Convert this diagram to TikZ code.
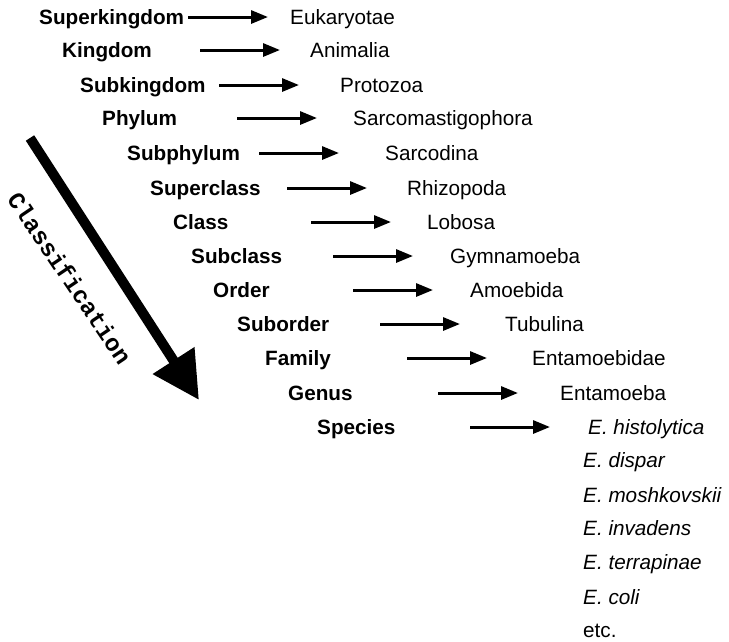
\documentclass[tikz,border=0pt]{standalone}
\usepackage{fontspec}
\setmainfont{Liberation Sans}
\newfontfamily\clsfont{Liberation Mono}
\usetikzlibrary{arrows.meta}
\begin{document}
\begin{tikzpicture}[x=1pt,y=-1pt,
  rank/.style={anchor=base west, inner sep=0pt, font=\fontsize{20.7}{21}\selectfont\bfseries},
  taxon/.style={anchor=base west, inner sep=0pt, font=\fontsize{20.7}{21}\selectfont},
  species/.style={anchor=base west, inner sep=0pt, font=\fontsize{20.7}{21}\selectfont\itshape},
  rowarrow/.style={line width=3pt, -{Triangle[length=17pt,width=13pt]}},
  bigarrow/.style={line width=10pt, -{Triangle[length=47pt,width=47pt]}},
]
\useasboundingbox (0,0) rectangle (729,641);
\foreach \i/\lab/\lx/\ax/\val/\rx/\yy in {
  0/Superkingdom/39/188/Eukaryotae/290/17,
  1/Kingdom/62/200/Animalia/310/50,
  2/Subkingdom/80/219/Protozoa/340/85,
  3/Phylum/102/237/Sarcomastigophora/353/118,
  4/Subphylum/127/259/Sarcodina/385/153,
  5/Superclass/150/287/Rhizopoda/407/188,
  6/Class/173/311/Lobosa/427/222,
  7/Subclass/191/333/Gymnamoeba/450/256,
  8/Order/213/353/Amoebida/470/290,
  9/Suborder/237/380/Tubulina/505/324,
  10/Family/265/407/Entamoebidae/532/358,
  11/Genus/288/438/Entamoeba/560/393,
  12/Species/317/470/{\itshape E. histolytica}/588/427} {
  \node[rank] (L\i) at (\lx,\yy+7) {\lab};
  \node[taxon] (R\i) at (\rx,\yy+7) {\val};
  \coordinate (A\i) at (\ax,\yy);
  \coordinate (B\i) at (\ax+80,\yy);
  \draw[rowarrow] (A\i) -- (B\i);
}
\foreach \j/\sp/\yy in {1/dispar/460, 2/moshkovskii/495, 3/invadens/528, 4/terrapinae/562, 5/coli/597} {
  \node[species] (S\j) at (583,\yy+7) {E. \sp};
}
\node[taxon] (etc) at (583,637) {etc.};
\coordinate (CS) at (30,138);
\coordinate (CE) at (199,400);
\draw[bigarrow] (CS) -- (CE);
\node[font=\clsfont\bfseries\fontsize{24}{24}\selectfont, rotate=-56, inner sep=0pt] (cls) at (70,278) {Classification};
\end{tikzpicture}
\end{document}
